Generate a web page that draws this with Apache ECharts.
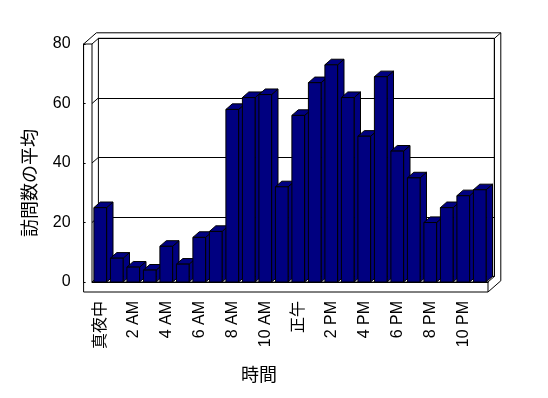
<!DOCTYPE html>
<html>
<head>
<meta charset="utf-8">
<title>時間別の訪問数の平均</title>
<script src="https://cdn.jsdelivr.net/npm/echarts@6/dist/echarts.min.js"></script>
<style>
    html, body { margin: 0; padding: 0; background: #fff; }
    #chart { width: 548px; height: 398px; }
</style>
</head>
<body>
<div id="chart"></div>
<script>
    // 時間帯ごとのデータ
    var hours = ['真夜中', '1 AM', '2 AM', '3 AM', '4 AM', '5 AM', '6 AM', '7 AM', '8 AM', '9 AM', '10 AM', '11 AM',
                 '正午', '1 PM', '2 PM', '3 PM', '4 PM', '5 PM', '6 PM', '7 PM', '8 PM', '9 PM', '10 PM', '11 PM'];
    var visits = [25, 8, 5, 4, 12, 6, 15, 17, 58, 62, 63, 32, 56, 67, 73, 62, 49, 69, 44, 35, 20, 25, 29, 31];
    var yTicks = [0, 20, 40, 60, 80];

    // 立体表示用の奥行きと壁の厚さ
    var DX = 6.4, DY = 5.6, WALL = 8.4, FLOOR = 10;
    var G = { left: 92, right: 60, top: 44, bottom: 116 };
    var FONT = 'Liberation Sans, Noto Sans CJK JP, sans-serif';
    var LINE = { fill: 'none', stroke: '#000', lineWidth: 1 };

    var chart = echarts.init(document.getElementById('chart'));

    // 壁と床の枠
    function renderFrame(params, api) {
        var bw = api.size([1, 0])[0];
        var x0 = api.coord([0, 0])[0] - bw / 2;
        var x1 = api.coord([hours.length - 1, 0])[0] + bw / 2;
        var yb = api.coord([0, yTicks[0]])[1];
        var yt = api.coord([0, yTicks[yTicks.length - 1]])[1];
        var kids = [];
        kids.push({ type: 'polygon', shape: { points: [
            [x0 - WALL, yt], [x0 - WALL + 2 * DX, yt - 2 * DY], [x1 + 2 * DX, yt - 2 * DY],
            [x1 + 2 * DX, yb + FLOOR - 2 * DY], [x1, yb + FLOOR], [x0 - WALL, yb + FLOOR]
        ] }, style: LINE });
        kids.push({ type: 'polyline', shape: { points: [
            [x0 - WALL, yt], [x0, yt], [x0, yb], [x1, yb], [x1, yb + FLOOR]
        ] }, style: LINE });
        kids.push({ type: 'polyline', shape: { points: [
            [x0 + DX, yt - DY], [x1 + DX, yt - DY], [x1 + 2 * DX, yt - 2 * DY]
        ] }, style: LINE });
        kids.push({ type: 'polyline', shape: { points: [
            [x1 + DX, yt - DY], [x1 + DX, yb - DY], [x1, yb]
        ] }, style: LINE });
        yTicks.forEach(function (t) {
            var y = api.coord([0, t])[1];
            kids.push({ type: 'line', shape: { x1: x0, y1: y, x2: x0 + DX, y2: y - DY }, style: LINE });
        });
        return { type: 'group', children: kids };
    }

    // 立体の棒
    function renderBar(params, api) {
        var w = api.size([1, 0])[0] * 0.77;
        var top = api.coord([api.value(0), api.value(1)]);
        var base = api.coord([api.value(0), 0]);
        var xl = top[0] - w / 2, xr = top[0] + w / 2;
        var st = { fill: '#000080', stroke: '#000', lineWidth: 1 };
        return { type: 'group', children: [
            { type: 'polygon', shape: { points: [[xr, top[1]], [xr + DX, top[1] - DY], [xr + DX, base[1] - DY], [xr, base[1]]] }, style: st },
            { type: 'polygon', shape: { points: [[xl, top[1]], [xr, top[1]], [xr + DX, top[1] - DY], [xl + DX, top[1] - DY]] }, style: st },
            { type: 'rect', shape: { x: xl, y: top[1], width: w, height: base[1] - top[1] }, style: st }
        ] };
    }

    chart.setOption({
        animation: false,
        grid: [
            { left: G.left, right: G.right, top: G.top, bottom: G.bottom },
            { left: G.left + DX, right: G.right - DX, top: G.top - DY, bottom: G.bottom + DY,
              show: true, borderColor: '#000', borderWidth: 1, backgroundColor: '#fff' }
        ],
        xAxis: [{
            type: 'category',
            gridIndex: 0,
            data: hours,
            name: '時間',
            nameLocation: 'middle',
            nameGap: 85,
            nameTextStyle: { fontFamily: FONT, fontSize: 18, color: '#000', padding: [0, 62, 0, 0] },
            axisLine: { lineStyle: { color: '#000' } },
            axisTick: { interval: 0, length: 10, lineStyle: { color: '#000' } },
            axisLabel: { interval: 1, rotate: 90, margin: 19, fontFamily: FONT, fontSize: 16, color: '#000' }
        }, {
            type: 'category',
            gridIndex: 1,
            data: hours,
            show: false
        }],
        yAxis: [{
            type: 'value',
            gridIndex: 0,
            min: 0,
            max: 80,
            interval: 20,
            offset: WALL,
            name: '訪問数の平均',
            nameLocation: 'middle',
            nameGap: 44,
            nameTextStyle: { fontFamily: FONT, fontSize: 18, color: '#000', padding: [0, 40, 0, 0] },
            axisLine: { show: true, lineStyle: { color: '#000' } },
            axisTick: { show: true, inside: true, length: 2, lineStyle: { color: '#000' } },
            axisLabel: { margin: 13, fontFamily: FONT, fontSize: 16, color: '#000' },
            splitLine: { show: false }
        }, {
            type: 'value',
            gridIndex: 1,
            min: 0,
            max: 80,
            interval: 20,
            axisLine: { show: false },
            axisTick: { show: false },
            axisLabel: { show: false },
            splitLine: { show: true, lineStyle: { color: '#000' } }
        }],
        series: [{
            name: 'frame',
            type: 'custom',
            xAxisIndex: 0,
            yAxisIndex: 0,
            z: 2,
            silent: true,
            clip: false,
            renderItem: renderFrame,
            data: [[0, 0]]
        }, {
            name: '訪問数の平均',
            type: 'custom',
            xAxisIndex: 0,
            yAxisIndex: 0,
            z: 3,
            clip: false,
            renderItem: renderBar,
            encode: { x: 0, y: 1 },
            data: visits.map(function (v, i) { return [i, v]; })
        }]
    });
</script>
</body>
</html>
